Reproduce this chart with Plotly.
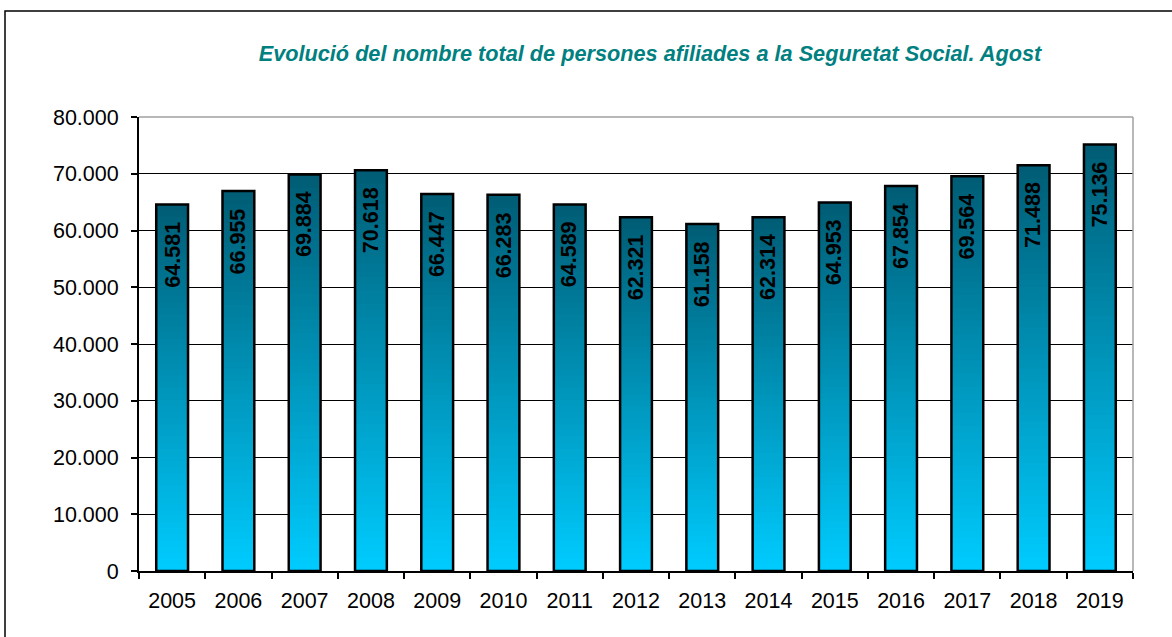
import plotly.graph_objects as go

years = ["2005", "2006", "2007", "2008", "2009", "2010", "2011", "2012",
         "2013", "2014", "2015", "2016", "2017", "2018", "2019"]
afiliats = [64581, 66955, 69884, 70618, 66447, 66283, 64589, 62321,
            61158, 62314, 64953, 67854, 69564, 71488, 75136]
labels = ["64.581", "66.955", "69.884", "70.618", "66.447", "66.283", "64.589", "62.321",
          "61.158", "62.314", "64.953", "67.854", "69.564", "71.488", "75.136"]

title_text = "Evolució del nombre total de persones afiliades a la Seguretat Social. Agost"
FONT = "Liberation Sans, Arial, sans-serif"

W, H = 1172, 637
ML, MR, MT, MB = 139, 39, 117, 66
PW, PH = W - ML - MR, H - MT - MB

bottom_rgb = (0, 204, 255)
top_rgb = (0, 92, 116)
N = 60

fig = go.Figure()

# gradient fill: successive slices from a rising base up to the bar top
for k in range(N):
    t = (k + 0.5) / N
    c = tuple(round(b + (tp - b) * t) for b, tp in zip(bottom_rgb, top_rgb))
    fig.add_trace(go.Bar(
        x=years,
        y=[v * (N - k) / N for v in afiliats],
        base=[v * k / N for v in afiliats],
        marker=dict(color=f"rgb{c}", line=dict(width=0)),
        hoverinfo="skip",
        showlegend=False,
    ))

# outline of each bar
fig.add_trace(go.Bar(
    x=years, y=afiliats,
    marker=dict(color="rgba(0,0,0,0)", line=dict(color="black", width=2.5)),
    showlegend=False,
))

for i, (v, lab) in enumerate(zip(afiliats, labels)):
    fig.add_annotation(
        x=i, y=v, xref="x", yref="y", text=lab, showarrow=False,
        textangle=-90, yanchor="top", xanchor="center", yshift=-15,
        font=dict(family=FONT, size=21.5, color="black", weight="bold"),
    )

def px_x(p):
    return (p - ML) / PW

def px_y(p):
    return (H - MB - p) / PH

shapes = [
    # outer chart border
    dict(type="rect", xref="paper", yref="paper",
         x0=px_x(5), x1=px_x(W + 20), y0=px_y(H + 20), y1=px_y(11),
         line=dict(color="black", width=1.5), fillcolor="rgba(0,0,0,0)"),
    # plot area top & right border (gray)
    dict(type="line", xref="paper", yref="paper", x0=0, x1=1, y0=1, y1=1,
         line=dict(color="#a0a0a0", width=1.5)),
    dict(type="line", xref="paper", yref="paper", x0=1, x1=1, y0=0, y1=1,
         line=dict(color="#a0a0a0", width=1.5)),
]

fig.update_layout(
    width=W, height=H,
    margin=dict(l=ML, r=MR, t=MT, b=MB, autoexpand=False),
    paper_bgcolor="white", plot_bgcolor="white",
    barmode="overlay", bargap=0.52,
    separators=",.",
    font=dict(family=FONT, size=21.5, color="black"),
    title=dict(
        text=title_text, xref="paper", x=px_x(650), xanchor="center",
        yref="container", y=1 - 53 / H, yanchor="middle",
        font=dict(family=FONT, size=21.7, color="#008080", weight="bold", style="italic"),
    ),
    shapes=shapes,
    xaxis=dict(
        type="category", categoryorder="array", categoryarray=years,
        range=[-0.5, len(years) - 0.5], automargin=False,
        showgrid=False, showline=True, linecolor="black", linewidth=2,
        ticks="outside", tickson="boundaries", ticklen=6, tickcolor="black", tickwidth=1.5,
        tickangle=0, tickfont=dict(family=FONT, size=21.5, color="black"), ticklabelstandoff=9,
    ),
    yaxis=dict(
        range=[0, 80000], dtick=10000, tickformat=",d", automargin=False,
        showgrid=True, gridcolor="black", gridwidth=1, zeroline=False,
        showline=True, linecolor="black", linewidth=2,
        ticks="outside", ticklen=6, tickcolor="black", tickwidth=1.5,
        tickfont=dict(family=FONT, size=21.5, color="black"), ticklabelstandoff=8,
    ),
)

fig.write_html(
    "out.html",
    config={"displayModeBar": False},
    post_script="document.body.style.margin='0';document.body.style.overflow='hidden';",
)
